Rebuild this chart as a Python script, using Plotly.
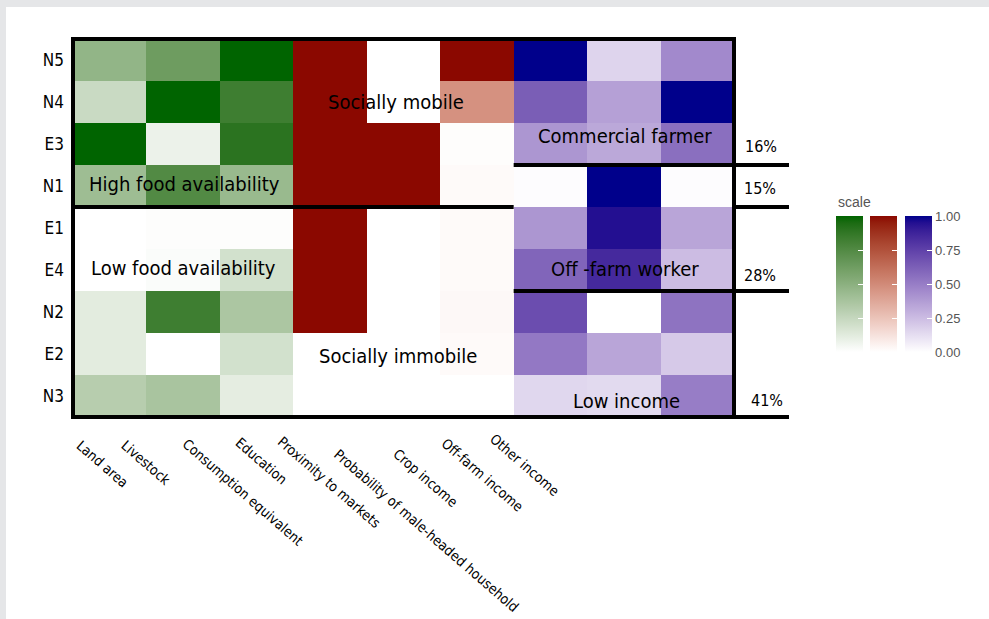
import plotly.graph_objects as go

# ---------------- data ----------------
rows = ["N5", "N4", "E3", "N1", "E1", "E4", "N2", "E2", "N3"]
columns = ["Land area", "Livestock", "Consumption equivalent", "Education",
           "Proximity to markets", "Probability of male-headed household",
           "Crop income", "Off-farm income", "Other income"]

land_area   = [0.47, 0.23, 1.00, 0.42, 0.00, 0.00, 0.12, 0.12, 0.31]
livestock   = [0.63, 1.00, 0.08, 0.75, 0.01, 0.02, 0.83, 0.00, 0.37]
consumption = [1.00, 0.83, 0.90, 0.44, 0.01, 0.19, 0.36, 0.19, 0.11]
education   = [1.00, 1.00, 1.00, 1.00, 1.00, 1.00, 1.00, 0.00, 0.00]
proximity   = [0.00, 0.00, 1.00, 1.00, 0.00, 0.00, 0.00, 0.00, 0.00]
prob_male   = [1.00, 0.47, 0.01, 0.02, 0.02, 0.02, 0.03, 0.02, 0.00]
crop_income = [1.00, 0.63, 0.40, 0.01, 0.40, 0.60, 0.70, 0.52, 0.15]
offfarm_inc = [0.16, 0.36, 0.33, 1.00, 0.95, 0.85, 0.00, 0.34, 0.14]
other_inc   = [0.45, 1.00, 0.56, 0.01, 0.34, 0.25, 0.54, 0.20, 0.50]

series = [land_area, livestock, consumption, education, proximity, prob_male,
          crop_income, offfarm_inc, other_inc]

groups = [[0, 1, 2], [3, 4, 5], [6, 7, 8]]  # column groups -> colour scale
high_colors = ["#006400", "#8B0800", "#00008B"]

cluster_labels = ["High food availability", "Low food availability", "Socially mobile",
                  "Socially immobile", "Commercial farmer", "Off -farm worker", "Low income"]
share_labels = ["16%", "15%", "28%", "41%"]
tick_values = [0, 0.25, 0.5, 0.75, 1.0]

# ---------------- layout constants ----------------
W, H = 989, 619
L_M, R_M, T_M, B_M = 73, 255, 39, 202
PW, PH = W - L_M - R_M, H - T_M - B_M
NC, NR = len(columns), len(rows)
FONT_N = "DejaVu Sans Condensed, Liberation Sans, Arial, sans-serif"
FONT_R = "Liberation Sans, Arial, sans-serif"


def px_x(px):
    return (px - L_M) / PW


def px_y(py):
    return (H - B_M - py) / PH


def cx(i):  # column index -> paper
    return (i + 0.5) / NC


def ry(j):  # row index (0 = top) -> paper
    return 1 - (j + 0.5) / NR


# ---------------- Lab colour interpolation (like ggplot gradient) ----------------
def _lin(c):
    c /= 255
    return c / 12.92 if c <= 0.04045 else ((c + 0.055) / 1.055) ** 2.4


def _gam(c):
    c = max(0.0, min(1.0, c))
    v = 12.92 * c if c <= 0.0031308 else 1.055 * c ** (1 / 2.4) - 0.055
    return int(round(v * 255))


def hex_to_lab(h):
    r, g, b = [_lin(int(h[i:i + 2], 16)) for i in (1, 3, 5)]
    X = (0.4124 * r + 0.3576 * g + 0.1805 * b) / 0.95047
    Y = 0.2126 * r + 0.7152 * g + 0.0722 * b
    Z = (0.0193 * r + 0.1192 * g + 0.9505 * b) / 1.08883
    f = lambda t: t ** (1 / 3) if t > 0.008856 else 7.787 * t + 16 / 116
    fx, fy, fz = f(X), f(Y), f(Z)
    return 116 * fy - 16, 500 * (fx - fy), 200 * (fy - fz)


def lab_to_hex(L, a, b):
    fy = (L + 16) / 116
    fx = fy + a / 500
    fz = fy - b / 200
    fi = lambda t: t ** 3 if t ** 3 > 0.008856 else (t - 16 / 116) / 7.787
    X, Y, Z = 0.95047 * fi(fx), fi(fy), 1.08883 * fi(fz)
    r = 3.2406 * X - 1.5372 * Y - 0.4986 * Z
    g = -0.9689 * X + 1.8758 * Y + 0.0415 * Z
    bb = 0.0557 * X - 0.2040 * Y + 1.0570 * Z
    return "#%02x%02x%02x" % (_gam(r), _gam(g), _gam(bb))


def lab_scale(high, n=21):
    a = hex_to_lab("#ffffff")
    b = hex_to_lab(high)
    return [[i / (n - 1), lab_to_hex(*[a[k] + (b[k] - a[k]) * i / (n - 1) for k in range(3)])]
            for i in range(n)]


fig = go.Figure()

bar_left_px = [836, 870, 905]
for gi, (cols, hc) in enumerate(zip(groups, high_colors)):
    z = [[series[c][r] if c in cols else None for c in range(NC)] for r in range(NR)]
    last = gi == len(groups) - 1
    fig.add_trace(go.Heatmap(
        z=z, x=columns, y=rows, zmin=0, zmax=1,
        colorscale=lab_scale(hc), hoverongaps=False,
        colorbar=dict(
            x=px_x(bar_left_px[gi]), xanchor="left", xpad=0, ypad=0,
            y=px_y(284), yanchor="middle",
            len=136, lenmode="pixels", thickness=27, thicknessmode="pixels",
            outlinewidth=0, tickmode="array", tickvals=tick_values,
            ticktext=["%.2f" % v for v in tick_values],
            ticks="inside", ticklen=5, tickcolor="white", tickwidth=1,
            showticklabels=last,
            tickfont=dict(family=FONT_R, size=13, color="#555555"),
        ),
    ))

# ---------------- borders ----------------
LW = 4
ext = px_x(789)
line = dict(color="black", width=LW)
shapes = []
shapes.append(dict(type="rect", xref="paper", yref="paper", x0=0, x1=1, y0=0, y1=1,
                   line=line))


def seg(x0, x1, y):
    return dict(type="line", xref="paper", yref="paper", x0=x0, x1=x1,
                y0=y, y1=y, line=line)


shapes.append(seg(1, ext, 0))                 # bottom extension
shapes.append(seg(0, 6 / NC, 1 - 4 / NR))     # food / social split
shapes.append(seg(6 / NC, ext, 1 - 3 / NR))   # commercial farmer
shapes.append(seg(1, ext, 1 - 4 / NR))        # 15% row
shapes.append(seg(6 / NC, ext, 1 - 6 / NR))   # off-farm worker
# grey page frame strips
shapes.append(dict(type="rect", xref="paper", yref="paper", x0=px_x(0), x1=px_x(6),
                   y0=px_y(H), y1=px_y(0), fillcolor="#e5e6e8", line=dict(width=0),
                   layer="below"))
shapes.append(dict(type="rect", xref="paper", yref="paper", x0=px_x(0), x1=px_x(W),
                   y0=px_y(7), y1=px_y(0), fillcolor="#e5e6e8", line=dict(width=0),
                   layer="below"))

# ---------------- annotations ----------------
ann = []
cluster_pos = [(1.02, 2.95), (1.0, 4.95), (3.9, 1.0), (3.92, 7.05),
               (7.02, 1.82), (7.02, 4.98), (7.03, 8.12)]
for t, (ci, rj) in zip(cluster_labels, cluster_pos):
    ann.append(dict(text=t, x=cx(ci), y=ry(rj), xref="paper", yref="paper",
                    xanchor="center", yanchor="middle",
                    showarrow=False, font=dict(family=FONT_N, size=20, color="black")))
share_pos = [(8.87, 2.07), (8.85, 3.06), (8.85, 5.12), (8.95, 8.1)]
for t, (ci, rj) in zip(share_labels, share_pos):
    ann.append(dict(text=t, x=cx(ci), y=ry(rj), xref="paper", yref="paper",
                    xanchor="center", yanchor="middle",
                    showarrow=False, font=dict(family=FONT_N, size=16, color="black")))
label_px = [(72, 436), (117, 436), (178, 434), (231, 433), (273, 432), (330, 445),
            (389, 444), (437, 434), (486, 429)]
for t, (lx, ly) in zip(columns, label_px):
    ann.append(dict(text=t, x=px_x(lx), y=px_y(ly), xref="paper", yref="paper",
                    xanchor="left", yanchor="top", textangle=41, showarrow=False,
                    borderpad=0,
                    font=dict(family=FONT_N, size=14, color="black")))
ann.append(dict(text="scale", x=px_x(836), y=px_y(202), xref="paper", yref="paper",
                xanchor="left", yanchor="middle", showarrow=False,
                font=dict(family=FONT_R, size=14, color="#555555")))

fig.update_layout(
    width=W, height=H,
    margin=dict(l=L_M, r=R_M, t=T_M, b=B_M, autoexpand=False),
    paper_bgcolor="white", plot_bgcolor="white",
    shapes=shapes, annotations=ann,
    xaxis=dict(showticklabels=False, showgrid=False, zeroline=False, ticks="",
               categoryorder="array", categoryarray=columns),
    yaxis=dict(showgrid=False, zeroline=False, ticks="", autorange="reversed",
               categoryorder="array", categoryarray=rows, ticklabelstandoff=8,
               tickfont=dict(family=FONT_N, size=17, color="black")),
    showlegend=False,
)

fig.write_html("out.html", config={"displayModeBar": False},
               post_script="document.body.style.margin='0px';"
                           "document.body.style.overflow='hidden';")
